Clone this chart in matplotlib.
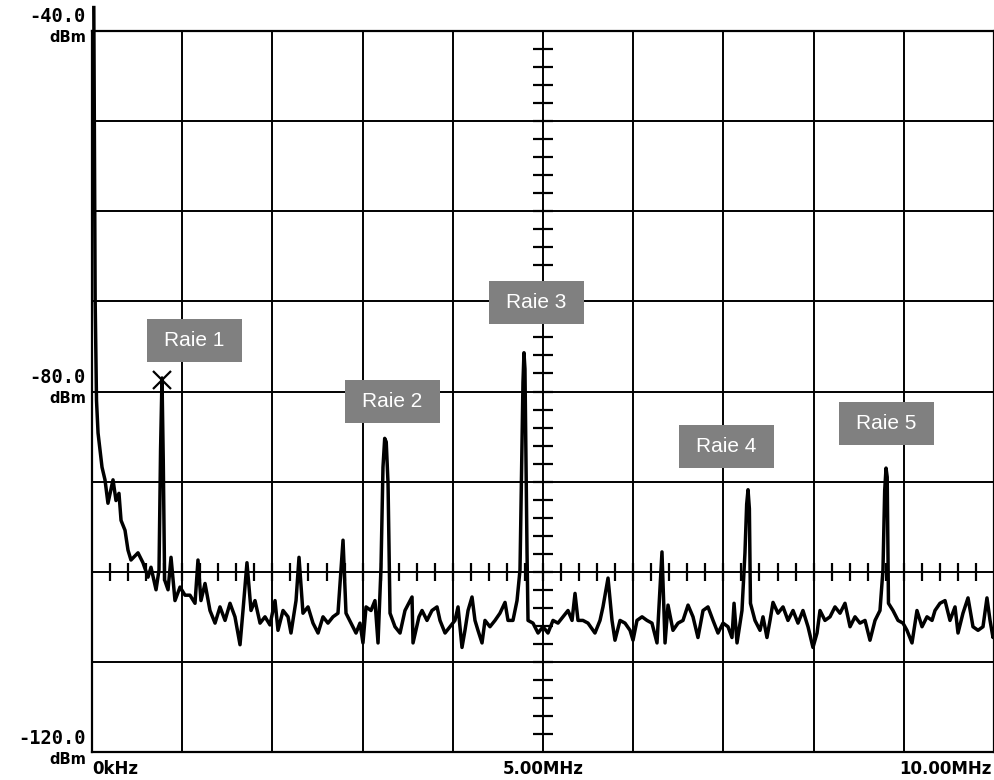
"""
Spectre relevé à l'analyseur : raies parasites entre 0 et 10 MHz
"""
import numpy as np
import matplotlib
matplotlib.use("Agg")
import matplotlib.pyplot as plt
from matplotlib.patches import Rectangle

# Trace relevée (fréquence en MHz, niveau en dBm)
freq_mhz = [
    0.02, 0.035, 0.05, 0.067, 0.111, 0.144, 0.177, 0.233, 0.266, 0.299,
    0.322, 0.366, 0.399, 0.432, 0.510, 0.565, 0.621, 0.654, 0.710, 0.743,
    0.760, 0.776, 0.790, 0.805, 0.843, 0.876, 0.920, 0.976, 1.031, 1.086,
    1.142, 1.175, 1.208, 1.253, 1.308, 1.364, 1.419, 1.475, 1.530, 1.585,
    1.641, 1.674, 1.718, 1.763, 1.807, 1.863, 1.918, 1.973, 2.029, 2.062,
    2.118, 2.173, 2.206, 2.262, 2.295, 2.339, 2.395, 2.450, 2.506, 2.561,
    2.616, 2.672, 2.727, 2.783, 2.816, 2.871, 2.927, 2.971, 3.004, 3.038,
    3.093, 3.137, 3.171, 3.204, 3.226, 3.245, 3.262, 3.282, 3.304, 3.359,
    3.415, 3.470, 3.548, 3.559, 3.625, 3.659, 3.714, 3.769, 3.825, 3.858,
    3.914, 3.969, 4.024, 4.058, 4.102, 4.135, 4.169, 4.213, 4.246, 4.279,
    4.324, 4.357, 4.412, 4.468, 4.523, 4.579, 4.612, 4.667, 4.712, 4.745,
    4.760, 4.778, 4.789, 4.800, 4.812, 4.823, 4.834, 4.889, 4.945, 5.000,
    5.055, 5.111, 5.166, 5.222, 5.277, 5.322, 5.355, 5.388, 5.443, 5.499,
    5.576, 5.632, 5.665, 5.721, 5.765, 5.798, 5.854, 5.909, 5.965, 5.998,
    6.042, 6.098, 6.153, 6.208, 6.264, 6.319, 6.353, 6.386, 6.441, 6.497,
    6.552, 6.608, 6.663, 6.718, 6.774, 6.829, 6.885, 6.940, 6.996, 7.051,
    7.095, 7.118, 7.151, 7.206, 7.239, 7.258, 7.273, 7.288, 7.300, 7.350,
    7.406, 7.439, 7.483, 7.517, 7.550, 7.605, 7.661, 7.716, 7.772, 7.827,
    7.882, 7.938, 7.993, 8.038, 8.071, 8.126, 8.182, 8.237, 8.293, 8.348,
    8.404, 8.459, 8.514, 8.570, 8.625, 8.681, 8.736, 8.769, 8.788, 8.803,
    8.816, 8.830, 8.880, 8.936, 8.991, 9.035, 9.091, 9.146, 9.202, 9.257,
    9.313, 9.346, 9.401, 9.457, 9.512, 9.568, 9.601, 9.656, 9.712, 9.767,
    9.823, 9.878, 9.922, 9.956, 9.989, 10.0,
]
level_dbm = [
    -37.4, -69.9, -81.0, -84.6, -88.4, -89.8, -92.4, -89.8, -92.1, -91.3,
    -94.3, -95.4, -97.6, -98.7, -97.9, -99.0, -100.6, -99.5, -102.0, -99.8,
    -86.5, -78.5, -87.6, -100.9, -102.0, -98.4, -103.2, -101.7, -102.6, -102.6,
    -103.5, -98.7, -103.2, -101.3, -104.3, -105.7, -103.9, -105.4, -103.5, -105.0,
    -108.1, -104.3, -99.0, -104.3, -103.2, -105.7, -105.0, -105.9, -103.2, -106.5,
    -104.3, -105.0, -106.8, -103.2, -98.4, -104.6, -103.9, -105.7, -106.8, -105.0,
    -105.7, -105.0, -104.6, -96.5, -104.6, -105.7, -106.8, -105.7, -107.9, -103.9,
    -104.3, -103.2, -107.9, -99.5, -88.4, -85.2, -85.6, -90.2, -104.6, -106.1,
    -106.8, -104.3, -102.8, -107.9, -105.0, -104.3, -105.4, -104.3, -103.9, -105.4,
    -106.8, -106.1, -105.4, -103.9, -108.4, -106.5, -104.3, -102.8, -105.4, -106.5,
    -107.9, -105.4, -106.1, -105.4, -104.6, -103.4, -105.4, -105.4, -103.2, -99.8,
    -90.0, -79.0, -75.7, -77.5, -88.0, -97.9, -105.4, -105.7, -106.8, -106.1,
    -106.8, -105.4, -105.7, -105.0, -104.3, -105.4, -102.4, -105.4, -105.4, -105.7,
    -106.8, -105.4, -103.9, -100.7, -105.4, -107.6, -105.4, -105.7, -106.5, -107.6,
    -105.4, -105.0, -105.4, -105.7, -107.9, -97.8, -107.9, -103.7, -106.5, -105.7,
    -105.4, -103.7, -105.0, -107.3, -104.3, -103.9, -105.4, -106.8, -105.7, -106.1,
    -107.3, -103.5, -107.9, -104.3, -97.9, -92.5, -90.9, -93.0, -103.5, -105.4,
    -106.5, -105.0, -107.3, -105.4, -103.4, -104.6, -103.9, -105.4, -104.3, -105.7,
    -104.3, -106.1, -108.4, -106.8, -104.3, -105.4, -105.0, -103.9, -104.6, -103.5,
    -106.1, -105.0, -105.7, -105.4, -107.6, -105.4, -104.3, -99.8, -91.0, -88.5,
    -89.5, -103.5, -104.3, -105.4, -105.7, -106.5, -107.9, -104.3, -106.1, -105.0,
    -105.4, -104.3, -103.5, -103.2, -105.4, -103.9, -106.8, -104.6, -102.9, -106.1,
    -106.5, -106.1, -102.9, -105.4, -107.3, -106.5,
]

# Marqueur sur la raie 1
marker_freq = 0.776
marker_level = -78.7

# Étiquettes des raies (centre de la boîte)
raie_labels = ["Raie 1", "Raie 2", "Raie 3", "Raie 4", "Raie 5"]
raie_freq = [1.136, 3.331, 4.928, 7.034, 8.808]
raie_level = [-74.3, -81.1, -70.1, -86.1, -83.5]

# Échelles
y_labels = [-40.0, -80.0, -120.0]
x_labels = ["0kHz", "5.00MHz", "10.00MHz"]
x_label_pos = [0, 5, 10]


def draw_graticule(ax):
    """Quadrillage de l'analyseur + axes centraux gradués"""
    ax.set_xlim(0, 10)
    ax.set_ylim(-120, -40)
    ax.set_xticks(np.arange(0, 11, 1))
    ax.set_yticks(np.arange(-120, -39, 10))
    ax.tick_params(length=0, labelbottom=False, labelleft=False)
    ax.grid(True, color="black", lw=1.4)
    for s in ax.spines.values():
        s.set_linewidth(1.6)

    # graduations sur l'axe vertical central (tous les 2 dB)
    ax.hlines(np.arange(-118, -40, 2), 5 - 0.11, 5 + 0.11, color="black", lw=1.6)
    # graduations sur la ligne -100 dBm (tous les 0.2 MHz)
    ax.vlines(np.arange(0.2, 10, 0.2), -101, -99, color="black", lw=1.6)


def main():
    fig = plt.figure(figsize=(9.94, 7.80), dpi=100)
    ax = fig.add_axes([92 / 994, 28 / 780, 902 / 994, 721 / 780])
    draw_graticule(ax)

    ax.plot(freq_mhz, level_dbm, color="black", lw=2.5,
            solid_joinstyle="round", clip_on=False, zorder=5)
    ax.plot([marker_freq], [marker_level], marker="x", color="black",
            ms=13, mew=1.6, zorder=6)

    # boîtes grises des raies
    box_w, box_h = 1.053, 4.77
    for lab, f, l in zip(raie_labels, raie_freq, raie_level):
        ax.add_patch(Rectangle((f - box_w / 2, l - box_h / 2), box_w, box_h,
                               facecolor="#808080", edgecolor="none", zorder=7))
        ax.text(f, l, lab, color="white", fontsize=15, family="Liberation Sans",
                ha="center", va="center", zorder=8)

    # libellés de niveau à gauche
    for v in y_labels:
        ax.annotate(f"{v:.1f}", (0, v), xycoords=("axes fraction", "data"),
                    xytext=(-6, 14), textcoords="offset pixels",
                    ha="right", va="center", fontsize=13.5,
                    family="DejaVu Sans Mono", fontweight="bold",
                    annotation_clip=False)
        ax.annotate("dBm", (0, v), xycoords=("axes fraction", "data"),
                    xytext=(-6, -7), textcoords="offset pixels",
                    ha="right", va="center", fontsize=10.5,
                    family="DejaVu Sans", fontweight="bold",
                    annotation_clip=False)

    # libellés de fréquence
    aligns = ["left", "center", "right"]
    for lab, xp, a in zip(x_labels, x_label_pos, aligns):
        ax.annotate(lab, (xp, -120), xytext=(-2 if a == "right" else 0, -17),
                    textcoords="offset pixels", ha=a, va="center",
                    fontsize=12, family="DejaVu Sans", fontweight="bold",
                    annotation_clip=False)

    fig.savefig("out.png", dpi=100)


if __name__ == "__main__":
    main()
